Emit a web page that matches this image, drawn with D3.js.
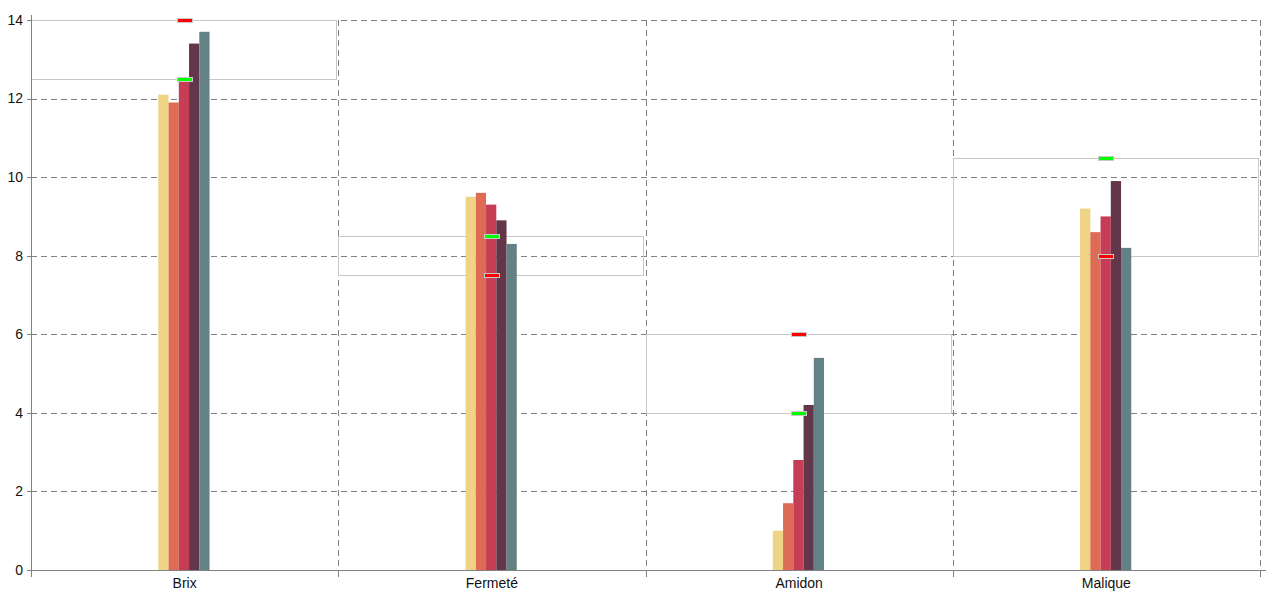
<!DOCTYPE html>
<html><head><meta charset="utf-8">
<script src="https://cdn.jsdelivr.net/npm/d3@7"></script>
<style>body{margin:0;background:#fff;}svg{display:block;font-family:"Liberation Sans",Arial,sans-serif;}</style>
</head><body><svg id="c" width="1280" height="600"></svg>
<script>
const categories = ["Brix", "Fermeté", "Amidon", "Malique"];
const seriesNames = ["S1", "S2", "S3", "S4", "S5"];
const seriesColors = ["#eed484", "#de6c54", "#c63d56", "#63364a", "#628285"];
const values = [
  [12.1, 11.9, 12.5, 13.4, 13.7],
  [9.5, 9.6, 9.3, 8.9, 8.3],
  [1.0, 1.7, 2.8, 4.2, 5.4],
  [9.2, 8.6, 9.0, 9.9, 8.2]
];
const redTarget = [14, 7.5, 6, 8];
const greenTarget = [12.5, 8.5, 4, 10.5];
const yTicks = [0, 2, 4, 6, 8, 10, 12, 14];

const svg = d3.select("#c");
const mLeft = 31, mRight = 1260, mTop = 20, mBottom = 570;
const x = d3.scaleBand().domain(categories).range([mLeft, mRight]);
const y = d3.scaleLinear().domain([0, 14]).range([mBottom, mTop]);
const bw = x.bandwidth();
const x1 = d3.scaleBand().domain(seriesNames).range([-bw / 12 - 0.7, bw / 12 - 0.7]);

// horizontal dashed grid
svg.append("g").selectAll("line").data(yTicks.filter(d => d > 0)).join("line")
  .attr("x1", mLeft).attr("x2", mRight)
  .attr("y1", d => Math.round(y(d)) + 0.5).attr("y2", d => Math.round(y(d)) + 0.5)
  .attr("stroke", "#808080").attr("stroke-dasharray", "6,4");
// vertical dashed grid at band boundaries
const bounds = categories.map(c => x(c) + bw);
svg.append("g").selectAll("line").data(bounds).join("line")
  .attr("x1", d => Math.round(d) + 0.5).attr("x2", d => Math.round(d) + 0.5)
  .attr("y1", mTop).attr("y2", mBottom)
  .attr("stroke", "#808080").attr("stroke-dasharray", "6,4");

// target range rects
svg.append("g").selectAll("rect").data(categories).join("rect")
  .attr("x", c => Math.round(x(c)) + 0.5)
  .attr("width", Math.round(bw) - 2)
  .attr("y", (c, i) => Math.round(y(Math.max(redTarget[i], greenTarget[i]))) + 0.5)
  .attr("height", (c, i) => Math.round(Math.abs(y(redTarget[i]) - y(greenTarget[i]))))
  .attr("fill", "none").attr("stroke", "#c8c8c8");

// bars
const groups = svg.append("g").selectAll("g").data(categories).join("g")
  .attr("transform", c => `translate(${x(c) + bw / 2},0)`);
groups.selectAll("rect").data((c, i) => values[i].map((v, j) => ({v, s: seriesNames[j], j})))
  .join("rect")
  .attr("x", d => x1(d.s)).attr("width", x1.bandwidth())
  .attr("y", d => y(d.v)).attr("height", d => y(0) - y(d.v))
  .attr("fill", d => seriesColors[d.j]);

// markers
function markers(arr, color) {
  svg.append("g").selectAll("rect").data(categories).join("rect")
    .attr("x", c => Math.round(x(c) + bw / 2) - 7.5)
    .attr("y", (c, i) => Math.round(y(arr[i])) - 1.5)
    .attr("width", 15).attr("height", 4)
    .attr("fill", color).attr("stroke", "#c8c8c8");
}
markers(redTarget, "#ff0000");
markers(greenTarget, "#00ff00");

// y axis
const ya = svg.append("g");
ya.append("line").attr("x1", mLeft + 0.5).attr("x2", mLeft + 0.5).attr("y1", 15).attr("y2", mBottom).attr("stroke", "#808080");
ya.selectAll("line.t").data(yTicks).join("line").attr("class", "t")
  .attr("x1", mLeft - 4).attr("x2", mLeft)
  .attr("y1", d => Math.round(y(d)) + 0.5).attr("y2", d => Math.round(y(d)) + 0.5).attr("stroke", "#808080");
ya.selectAll("text").data(yTicks).join("text")
  .attr("x", mLeft - 8).attr("y", d => y(d)).attr("dy", "0.35em")
  .attr("text-anchor", "end").attr("font-size", 14).attr("fill", "#111").text(d => d);

// x axis
const xa = svg.append("g");
xa.append("line").attr("x1", mLeft).attr("x2", 1266).attr("y1", mBottom + 0.5).attr("y2", mBottom + 0.5).attr("stroke", "#808080");
xa.selectAll("line.t").data([mLeft].concat(bounds)).join("line").attr("class", "t")
  .attr("x1", d => Math.round(d) + 0.5).attr("x2", d => Math.round(d) + 0.5)
  .attr("y1", mBottom).attr("y2", mBottom + 7).attr("stroke", "#808080");
xa.selectAll("text").data(categories).join("text")
  .attr("x", c => x(c) + bw / 2).attr("y", 588)
  .attr("text-anchor", "middle").attr("font-size", 14).attr("fill", "#111").text(c => c);
</script></body></html>
